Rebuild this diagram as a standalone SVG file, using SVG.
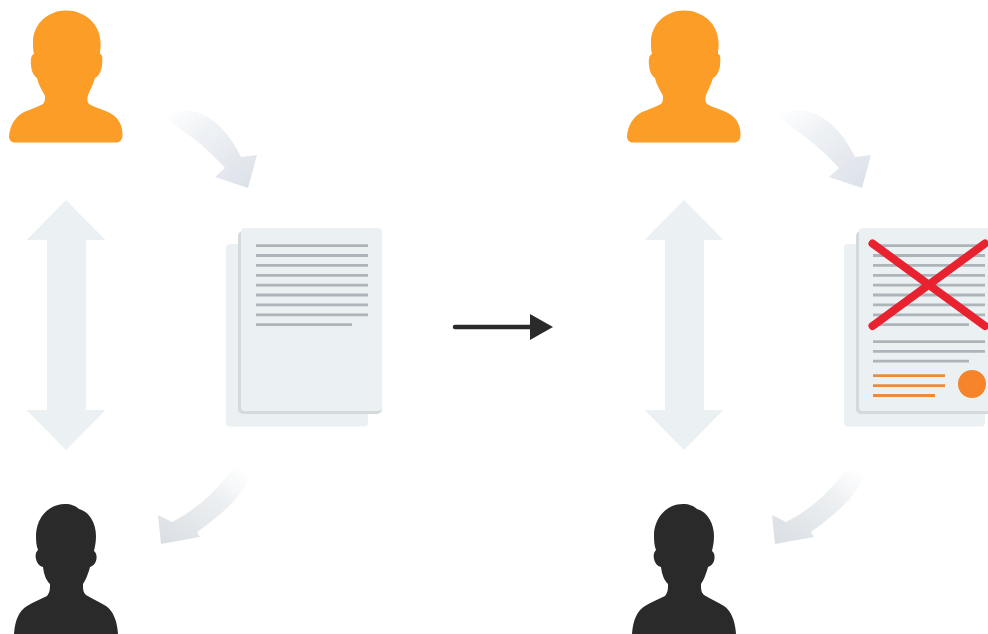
<svg xmlns="http://www.w3.org/2000/svg" width="988" height="634" viewBox="0 0 988 634">
<style>
.back{fill:#ebf0f3}
.front{fill:#ebf0f3;stroke:none}
.edge{fill:#d3d9dd}
.ln{stroke:#aeb5ba;stroke-width:2.8;fill:none}
.or{stroke:#ee8a3c;stroke-width:2.8;fill:none}
.dbl{fill:#ebf0f3}
</style>
<defs>
<filter id="soft" x="-5%" y="-5%" width="110%" height="110%"><feGaussianBlur stdDeviation="0.6"/></filter>
<linearGradient id="g1" x1="0" y1="0" x2="1" y2="1"><stop offset="0" stop-color="#f2f4f7" stop-opacity="0"/><stop offset=".35" stop-color="#eff2f5"/><stop offset="1" stop-color="#dbe0e8"/></linearGradient>
<linearGradient id="g2" x1="1" y1="0" x2="0" y2="1"><stop offset="0" stop-color="#f2f4f6" stop-opacity="0"/><stop offset=".35" stop-color="#edf0f2"/><stop offset="1" stop-color="#d9dee3"/></linearGradient>
<path id="dblarrow" class="dbl" d="M66 200 L105.500 240 L86 240 L86 410 L105.500 410 L66 450 L26.500 410 L47 410 L47 240 L26.500 240 Z"/>
<path id="arrowdown" fill="url(#g1)" d="M163 115 C178 110 192 109 204 115 C220 123 233 140 241 157 L257 155 L248 188 L215 177 L225 168 C213 155 200 143 190 136 C180 129 172 123 163 115 Z"/>
<path id="arrowup" fill="url(#g2)" d="M230 472 C237 469 244 471 250 476 C243 495 225 512 197 532 L200 537 L161 544 L158 515 L172 522 C190 513 212 497 230 472 Z"/>
<path id="personorange" fill="#fb9d27" d="M66 10.500 C85 10.500 100 24 100.500 42 C101 48 100 50 100 54 C103 54 102.500 60 102 66 C101 72 98 77 95 78 C93 85 90 90 88 95 C87 99 87 102 89 104 C95 108 103 109 110 113 C119 118 123 126 122.500 136 C122 140 120 142.500 116 142.500 L15 142.500 C11 142.500 9 140 9 136 C10 125 15 117 24 112 C31 109 38 107 43 104 C45 102 45 99 45 96 C42 90 38 84 37 78 C34 76 31.500 72 31 65 C30.500 60 31 55 34 54 C33 50 33 47 33 42 C33 24 48 10.500 66 10.500 Z"/>
<path id="persondark" fill="#2b2a2b" d="M65 504 C71 504 76 506 79 509 C90 512 96 524 96 536 C96 542 95 546 94 551 C97 553 97 558 96 561 C95 564 93 566 90 567 C88 575 85 581 83 584 C83 589 83 592 86 595 C92 599 100 602 106 606 C113 611 117 620 118 634 L14 634 C15 620 19 611 27 606 C33 602 41 599 47 596 C50 592 50 589 50 584 C46 580 44 575 43 567 C39 566 37 563 36 559 C35 555 36 552 38 550 C36 545 36 540 36 534 C37 517 49 504 65 504 Z"/>
<g id="doclines">
<path class="ln" d="M256 245.700H368M256 255.500H368M256 265.400H368M256 275.300H368M256 285.200H368M256 295H368M256 304.900H368M256 314.800H368M256 324.700H352"/>
</g>
</defs>
<rect width="988" height="634" fill="#fff"/>
<g filter="url(#soft)">
<g id="connectors">
<use href="#arrowdown"/>
<use href="#arrowup"/>
<use href="#dblarrow"/>
<use href="#arrowdown" x="614"/>
<use href="#arrowup" x="614"/>
<use href="#dblarrow" x="618"/>
<g id="main-arrow"><path d="M455 327H534" stroke="#2b2a2b" stroke-width="4.500" stroke-linecap="round" fill="none"/><path d="M530 314 L553 327 L530 340 Z" fill="#2b2a2b"/></g>
</g>
<g id="person-a-left"><use href="#personorange"/></g>
<g id="person-b-left"><use href="#persondark"/></g>
<g id="person-a-right"><use href="#personorange" x="618"/></g>
<g id="person-b-right"><use href="#persondark" x="618"/></g>
<g id="doc-left">
<rect class="back" x="226" y="244" width="142" height="182.500" rx="4"/>
<rect class="edge" x="238" y="231" width="144" height="183" rx="5"/>
<rect class="front" x="241" y="228" width="141" height="183" rx="4"/>
<use href="#doclines"/>
</g>
<g id="doc-right">
<rect class="back" x="844" y="244" width="141" height="182.500" rx="4"/>
<rect class="edge" x="856" y="231" width="144" height="183" rx="5"/>
<rect class="front" x="859" y="228" width="141" height="183" rx="4"/>
<use href="#doclines" x="617"/>
<path class="ln" d="M873 341.700H985M873 351.400H985M873 361.200H969"/>
<path class="or" d="M873 375.700H945M873 385.600H945M873 395.500H935"/>
<circle cx="972" cy="384" r="14" fill="#f5842c"/>
<path d="M872.500 243.500L985 326M985 243.500L872.500 326" stroke="#e8202e" stroke-width="8" stroke-linecap="round" fill="none"/>
</g>
</g>
</svg>
